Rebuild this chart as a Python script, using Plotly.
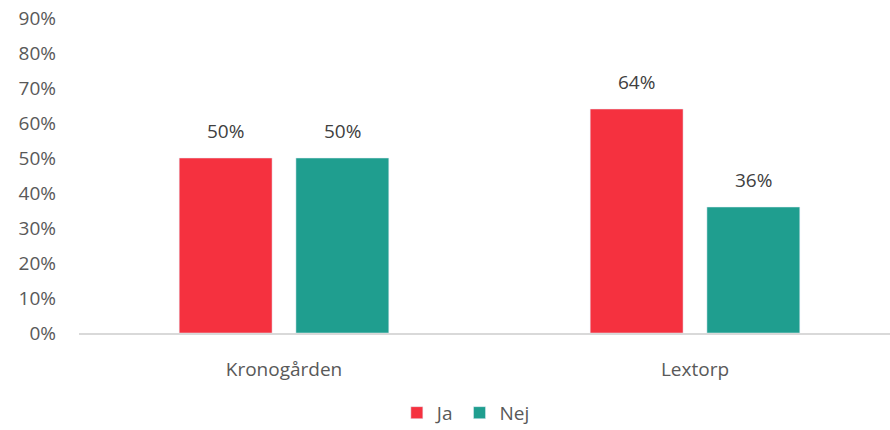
import plotly.graph_objects as go

# Survey answers per area
categories = ["Kronogården", "Lextorp"]
ja_values = [0.50, 0.64]
nej_values = [0.50, 0.36]
y_ticks = [0, 0.1, 0.2, 0.3, 0.4, 0.5, 0.6, 0.7, 0.8, 0.9]
y_tick_labels = ["0%", "10%", "20%", "30%", "40%", "50%", "60%", "70%", "80%", "90%"]

RED = "#F5313F"
TEAL = "#1F9E8F"
FONT = "Open Sans"
FS = 19

BAR_W = 0.226
JA_OFF = -0.255
NEJ_OFF = 0.029

fig = go.Figure()
fig.add_trace(go.Bar(
    name="Ja", x=[0, 1], y=ja_values, marker_color=RED,
    width=BAR_W, offset=JA_OFF, hoverinfo="skip",
))
fig.add_trace(go.Bar(
    name="Nej", x=[0, 1], y=nej_values, marker_color=TEAL,
    width=BAR_W, offset=NEJ_OFF, hoverinfo="skip",
))

# value labels above each bar
annotations = []
for i, (ja, nej) in enumerate(zip(ja_values, nej_values)):
    for val, off in ((ja, JA_OFF), (nej, NEJ_OFF)):
        annotations.append(dict(
            x=i + off + BAR_W / 2, y=val, xref="x", yref="y",
            text=f"{round(val * 100)}%", showarrow=False,
            yanchor="bottom", yshift=12,
            font=dict(family=FONT, size=FS, color="#404040"),
        ))

fig.update_layout(
    width=890, height=430,
    margin=dict(l=79, r=0, t=18, b=97, autoexpand=False),
    paper_bgcolor="white", plot_bgcolor="white",
    barmode="overlay",
    showlegend=True,
    legend=dict(
        orientation="h", x=0.477, xanchor="center",
        yref="container", y=0.04, yanchor="middle",
        font=dict(family=FONT, size=FS, color="#595959"),
        itemwidth=30, traceorder="normal",
    ),
    annotations=annotations,
    xaxis=dict(
        range=[-0.4988, 1.4745],
        tickmode="array", tickvals=[0, 1], ticktext=categories,
        showgrid=False, zeroline=False,
        showline=True, linecolor="#D9D9D9", linewidth=2,
        ticks="", ticklabelstandoff=18, automargin=False,
        tickfont=dict(family=FONT, size=FS, color="#595959"),
    ),
    yaxis=dict(
        range=[0, 0.9],
        tickmode="array", tickvals=y_ticks, ticktext=y_tick_labels,
        showgrid=False, zeroline=False, showline=False,
        ticks="", ticklabelstandoff=22, automargin=False,
        tickfont=dict(family=FONT, size=FS, color="#595959"),
    ),
)

fig.write_html("out.html")
